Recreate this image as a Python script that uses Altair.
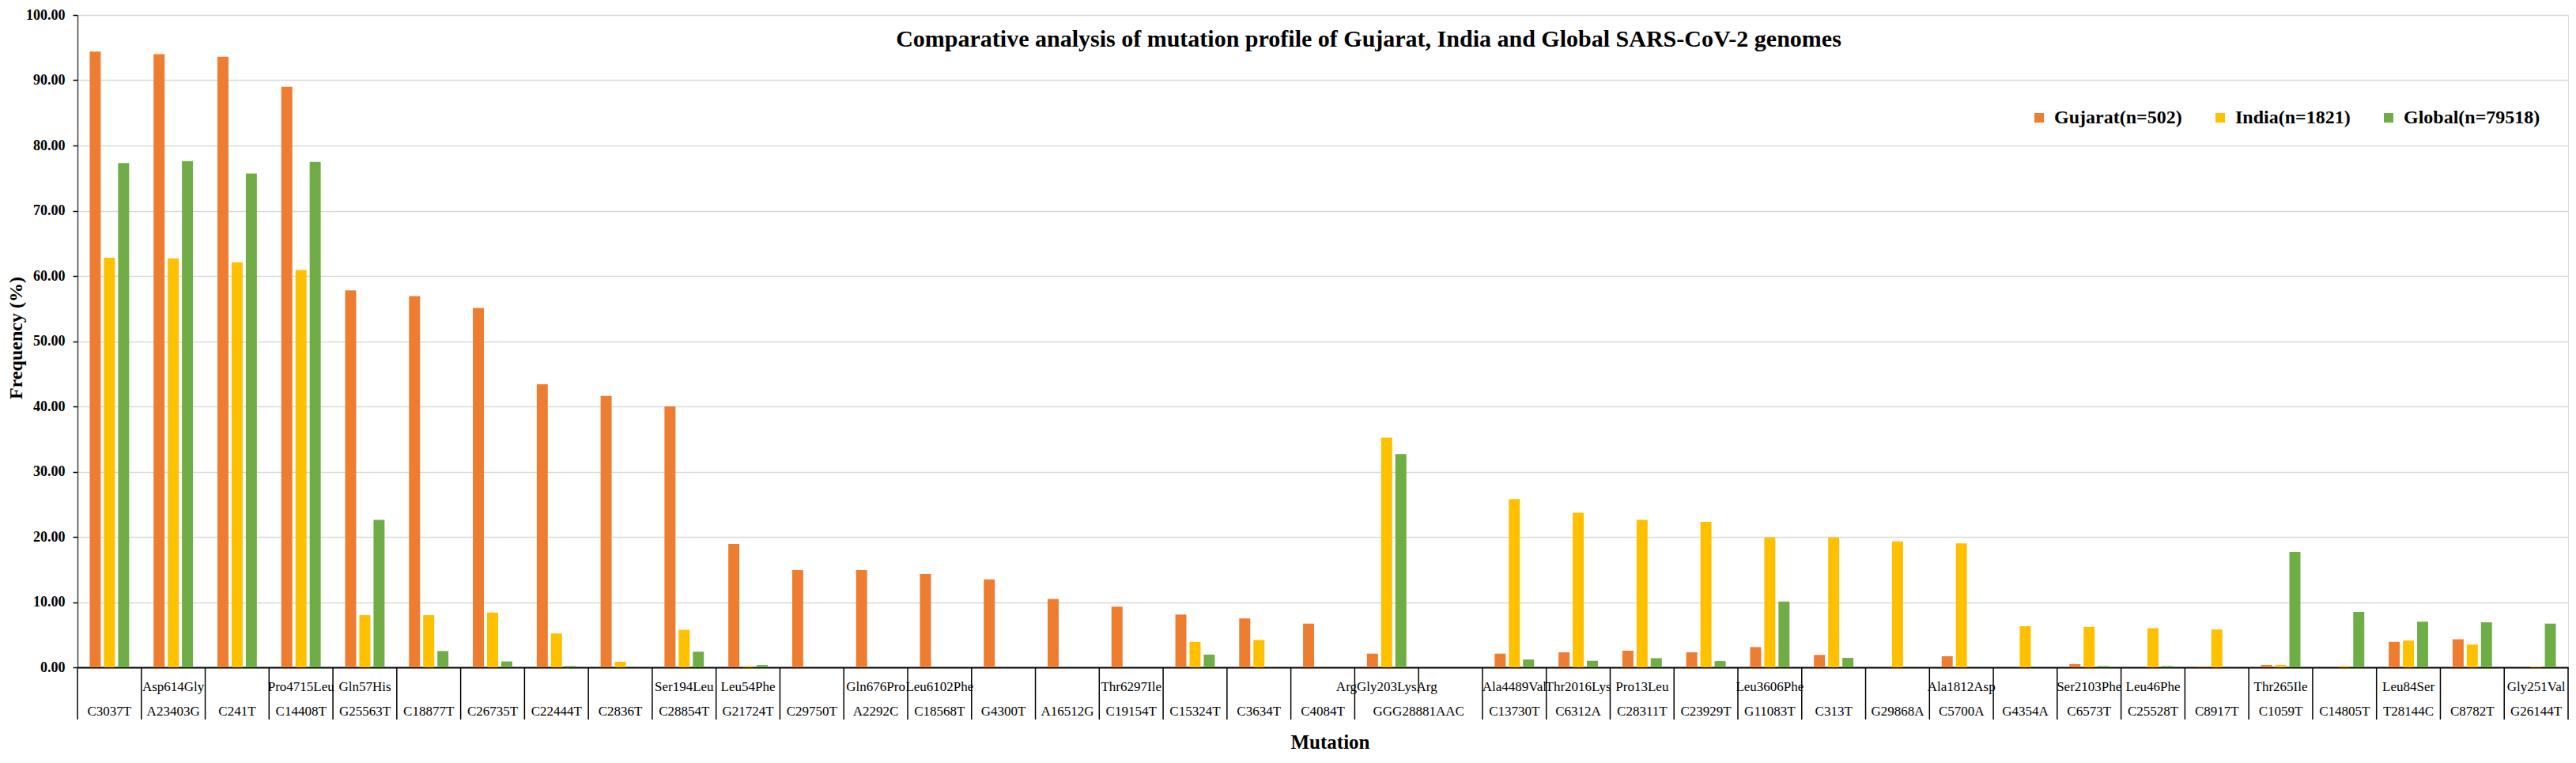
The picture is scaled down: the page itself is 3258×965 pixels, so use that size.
import altair as alt
import pandas as pd

# ---------------- data ----------------
nucleotide = ["C3037T", "A23403G", "C241T", "C14408T", "G25563T", "C18877T", "C26735T",
              "C22444T", "C2836T", "C28854T", "G21724T", "C29750T", "A2292C", "C18568T",
              "G4300T", "A16512G", "C19154T", "C15324T", "C3634T", "C4084T",
              "GGG28881AAC", "GGG28881AAC", "C13730T", "C6312A", "C28311T", "C23929T",
              "G11083T", "C313T", "G29868A", "C5700A", "G4354A", "C6573T", "C25528T",
              "C8917T", "C1059T", "C14805T", "T28144C", "C8782T", "G26144T"]
amino = ["", "Asp614Gly", "", "Pro4715Leu", "Gln57His", "", "", "", "", "Ser194Leu",
         "Leu54Phe", "", "Gln676Pro", "Leu6102Phe", "", "", "Thr6297Ile", "", "", "",
         "ArgGly203LysArg", "", "Ala4489Val", "Thr2016Lys", "Pro13Leu", "", "Leu3606Phe",
         "", "", "Ala1812Asp", "", "Ser2103Phe", "Leu46Phe", "", "Thr265Ile", "",
         "Leu84Ser", "", "Gly251Val"]
gujarat = [94.4, 94.0, 93.6, 89.0, 57.8, 56.9, 55.1, 43.4, 41.6, 40.0, 18.9, 14.9, 14.9,
           14.3, 13.5, 10.5, 9.3, 8.1, 7.5, 6.7, 2.1, 0.0, 2.1, 2.3, 2.55, 2.3, 3.1, 1.9,
           0.0, 1.7, 0.0, 0.5, 0.0, 0.1, 0.36, 0.0, 3.9, 4.3, 0.0]
india = [62.8, 62.7, 62.1, 60.9, 8.0, 8.0, 8.4, 5.2, 0.85, 5.75, 0.2, 0.0, 0.0, 0.0, 0.0,
         0.0, 0.0, 3.9, 4.2, 0.0, 35.2, 0.0, 25.8, 23.7, 22.6, 22.3, 19.9, 19.9, 19.3, 19.0,
         6.3, 6.2, 6.0, 5.8, 0.36, 0.2, 4.1, 3.5, 0.1]
global_ = [77.3, 77.6, 75.7, 77.5, 22.6, 2.5, 0.9, 0.2, 0.0, 2.4, 0.35, 0.0, 0.0, 0.0, 0.0,
           0.0, 0.0, 1.95, 0.0, 0.0, 32.7, 0.0, 1.2, 1.0, 1.4, 0.96, 10.1, 1.45, 0.0, 0.0,
           0.0, 0.2, 0.2, 0.05, 17.7, 8.5, 7.0, 6.9, 6.7]
series = ["Gujarat(n=502)", "India(n=1821)", "Global(n=79518)"]
colors = ["#ED7D31", "#FFC000", "#70AD47"]
y_ticks = [0, 10, 20, 30, 40, 50, 60, 70, 80, 90, 100]
title_text = "Comparative analysis of mutation profile of Gujarat, India and Global SARS-CoV-2 genomes"

# ---------------- tables ----------------
W = 3150
TOP = 11
H = 836 - TOP
FONT = "Liberation Serif"
n = len(nucleotide)

rows = []
for i in range(n):
    for s, vals in zip(series, [gujarat, india, global_]):
        rows.append({"slot": i, "series": s, "value": vals[i]})
bars_df = pd.DataFrame(rows)

slots_df = pd.DataFrame({"slot": list(range(n)), "nuc": nucleotide, "aa": amino})
cont = [i > 0 and nucleotide[i] == nucleotide[i - 1] for i in range(n)]
slots_df["cont"] = cont
single_df = slots_df[[not (c or (i + 1 < n and cont[i + 1])) for i, c in enumerate(cont)]]
span_df = slots_df[slots_df["cont"]]
full_sep_df = slots_df[~slots_df["cont"]]
short_sep_df = slots_df[slots_df["cont"]]
end_df = slots_df[slots_df["slot"] == n - 1]
title_df = pd.DataFrame({"t": [title_text]})

xscale = alt.Scale(paddingInner=0, paddingOuter=0)

bars = alt.Chart(bars_df).mark_bar().encode(
    x=alt.X("slot:O", scale=xscale,
            axis=alt.Axis(labels=False, ticks=False, grid=False, domain=True,
                          domainColor="black", domainWidth=2,
                          title="Mutation", titleFont=FONT, titleFontSize=25,
                          titleFontWeight="bold", titleColor="black",
                          titleBaseline="alphabetic", titleAlign="center",
                          titleX=1584, titleY=102)),
    xOffset=alt.XOffset("series:N", sort=series,
                        scale=alt.Scale(paddingInner=0.222, paddingOuter=0.861)),
    y=alt.Y("value:Q", scale=alt.Scale(domain=[0, 100], nice=False, zero=True),
            axis=alt.Axis(values=y_ticks, format=".2f", title="Frequency (%)",
                          labelFont=FONT, labelFontSize=18, labelFontWeight="bold",
                          labelColor="black", labelPadding=10,
                          tickColor="black", tickSize=6, tickWidth=1.5,
                          domainColor="#404040", domainWidth=1.5,
                          gridColor="#D9D9D9", gridWidth=1.5,
                          titleFont=FONT, titleFontSize=24, titleFontWeight="bold",
                          titleColor="black", titleBaseline="alphabetic",
                          titleAlign="center", titleAngle=-90,
                          titleX=-71, titleY=427 - 8 - TOP)),
    color=alt.Color("series:N", sort=series,
                    scale=alt.Scale(domain=series, range=colors),
                    legend=alt.Legend(orient="none", legendX=2469, legendY=129 - TOP,
                                      direction="horizontal", title=None,
                                      symbolType="square", symbolSize=144,
                                      symbolStrokeWidth=0, labelFont=FONT,
                                      labelFontSize=24, labelFontWeight="bold",
                                      labelColor="black", labelOffset=7,
                                      columnPadding=36, labelLimit=400)),
)

sep_full = alt.Chart(full_sep_df).mark_rule(color="black", strokeWidth=1.5).encode(
    x=alt.X("slot:O", bandPosition=0),
    y=alt.value(H), y2=alt.value(H + 66),
)
sep_short = alt.Chart(short_sep_df).mark_rule(color="black", strokeWidth=1.5).encode(
    x=alt.X("slot:O", bandPosition=0),
    y=alt.value(H), y2=alt.value(H + 33),
)
sep_end = alt.Chart(end_df).mark_rule(color="black", strokeWidth=1.5).encode(
    x=alt.X("slot:O", bandPosition=1),
    y=alt.value(H), y2=alt.value(H + 66),
)

inner_lbl = alt.Chart(slots_df).mark_text(font=FONT, fontSize=17, color="black",
                                          baseline="alphabetic", align="center").encode(
    x=alt.X("slot:O"), y=alt.value(H + 30), text="aa:N",
)
outer_lbl = alt.Chart(single_df).mark_text(font=FONT, fontSize=17, color="black",
                                           baseline="alphabetic", align="center").encode(
    x=alt.X("slot:O"), y=alt.value(H + 61), text="nuc:N",
)
span_lbl = alt.Chart(span_df).mark_text(font=FONT, fontSize=17, color="black",
                                        baseline="alphabetic", align="center").encode(
    x=alt.X("slot:O", bandPosition=0), y=alt.value(H + 61), text="nuc:N",
)
title_lbl = alt.Chart(title_df).mark_text(font=FONT, fontSize=30, fontWeight="bold",
                                          color="black", baseline="alphabetic",
                                          align="center").encode(
    x=alt.value(1633), y=alt.value(59 - 8 - TOP), text="t:N",
)

chart = alt.layer(bars, sep_full, sep_short, sep_end, inner_lbl, outer_lbl, span_lbl,
                  title_lbl).properties(
    width=W, height=H,
    autosize=alt.AutoSizeParams(type="none"),
    padding={"left": 90, "top": TOP, "right": 2, "bottom": 107},
).configure_view(strokeWidth=0).configure(background="white")

chart.save("out.html", embed_options={"renderer": "svg", "actions": False})
